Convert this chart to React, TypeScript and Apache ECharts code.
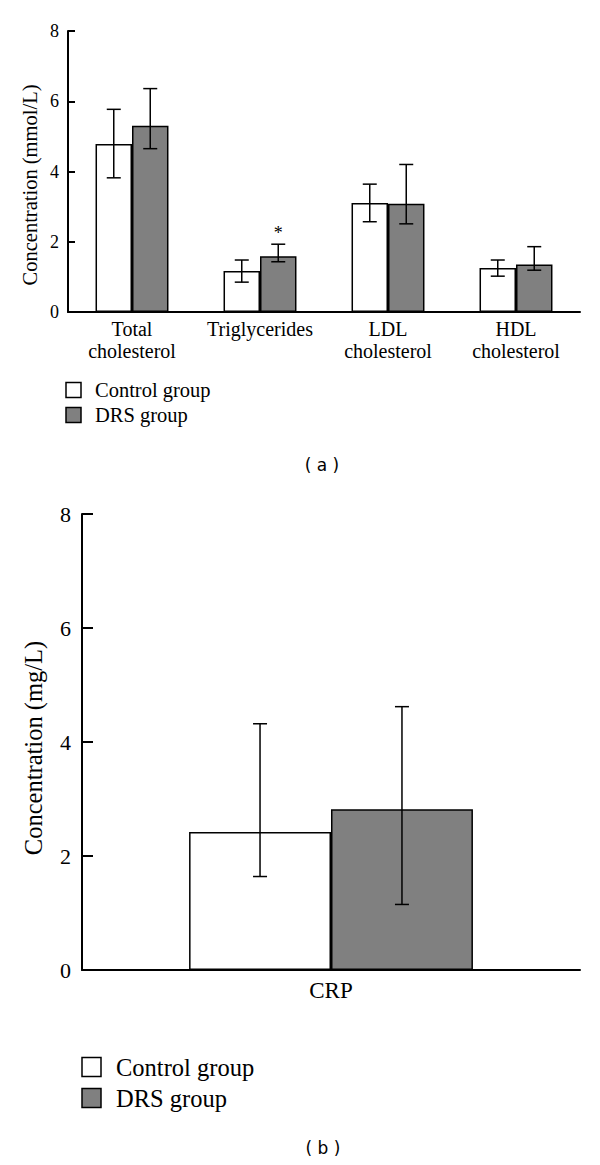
import React, { useEffect, useRef } from "react";
import * as echarts from "echarts";

const lipidCategories = ["Total\ncholesterol", "Triglycerides", "LDL\ncholesterol", "HDL\ncholesterol"];
const lipidControl = [4.78, 1.17, 3.1, 1.25];
const lipidControlLow = [3.82, 0.85, 2.57, 1.02];
const lipidControlHigh = [5.77, 1.48, 3.64, 1.48];
const lipidDRS = [5.3, 1.59, 3.08, 1.35];
const lipidDRSLow = [4.65, 1.43, 2.51, 1.19];
const lipidDRSHigh = [6.36, 1.93, 4.2, 1.86];
const lipidSignificance = ["", "*", "", ""];

const crpCategories = ["CRP"];
const crpControl = [2.42];
const crpControlLow = [1.64];
const crpControlHigh = [4.32];
const crpDRS = [2.82];
const crpDRSLow = [1.15];
const crpDRSHigh = [4.62];
const crpSignificance = [""];

const yTicks = [0, 2, 4, 6, 8];

const SERIF = "Liberation Serif";

function errorSeries(
  xAxisIndex: number,
  yAxisIndex: number,
  low: number[],
  high: number[],
  sig: string[],
  offset: number,
  cap: number,
  width: number
) {
  return {
    type: "custom",
    xAxisIndex,
    yAxisIndex,
    z: 10,
    silent: true,
    data: low.map((l, i) => [i, l, high[i]]),
    renderItem: (params: any, api: any) => {
      const cat = api.value(0);
      const lo = api.value(1);
      const hi = api.value(2);
      const band = api.size([1, 0])[0];
      const xc = api.coord([cat, 0])[0] + offset * band;
      const yHi = api.coord([cat, hi])[1];
      const yLo = api.coord([cat, lo])[1];
      const style = { stroke: "#000", lineWidth: width };
      const children: any[] = [
        { type: "line", shape: { x1: xc, y1: yHi, x2: xc, y2: yLo }, style },
        { type: "line", shape: { x1: xc - cap, y1: yHi, x2: xc + cap, y2: yHi }, style },
        { type: "line", shape: { x1: xc - cap, y1: yLo, x2: xc + cap, y2: yLo }, style },
      ];
      const s = sig[params.dataIndex];
      if (s) {
        children.push({
          type: "text",
          style: {
            text: s,
            x: xc,
            y: yHi - 11,
            align: "center",
            verticalAlign: "middle",
            fontSize: 18,
            fontFamily: SERIF,
            fill: "#000",
          },
        });
      }
      return { type: "group", children };
    },
  };
}

function valueAxis(gridIndex: number, fontSize: number, tickLen: number, margin: number) {
  return {
    type: "value",
    gridIndex,
    min: yTicks[0],
    max: yTicks[yTicks.length - 1],
    interval: 2,
    axisLine: { show: true, lineStyle: { color: "#000", width: 2 } },
    axisTick: { show: true, inside: true, length: tickLen, lineStyle: { color: "#000", width: 2 } },
    axisLabel: { show: true, color: "#000", fontSize, fontFamily: SERIF, margin },
    splitLine: { show: false },
  };
}

export default function App() {
  const ref = useRef<HTMLDivElement>(null);
  useEffect(() => {
    document.body.style.margin = "0";
    if (!ref.current) return;
    const chart = echarts.init(ref.current, null, { renderer: "svg" });

    const barStyle = (fill: string) => ({ color: fill, borderColor: "#000", borderWidth: 1.5 });

    const legend = (x: number, y1: number, y2: number, size: number, fontSize: number, gap: number) => [
      { type: "rect", shape: { x, y: y1 - size / 2, width: size, height: size }, style: { fill: "#fff", stroke: "#000", lineWidth: 1.5 } },
      { type: "text", x: x + size + gap, y: y1, style: { text: "Control group", fontSize, fontFamily: SERIF, fill: "#000", verticalAlign: "middle" } },
      { type: "rect", shape: { x, y: y2 - size / 2, width: size, height: size }, style: { fill: "#808080", stroke: "#000", lineWidth: 1.5 } },
      { type: "text", x: x + size + gap, y: y2, style: { text: "DRS group", fontSize, fontFamily: SERIF, fill: "#000", verticalAlign: "middle" } },
    ];

    chart.setOption({
      animation: false,
      backgroundColor: "#fff",
      textStyle: { fontFamily: SERIF, color: "#000" },
      grid: [
        { left: 68, right: 20, top: 31, bottom: 1165 - 312 },
        { left: 82, right: 20, top: 514, bottom: 1165 - 970 },
      ],
      xAxis: [
        {
          type: "category",
          gridIndex: 0,
          data: lipidCategories,
          axisLine: { lineStyle: { color: "#000", width: 2 } },
          axisTick: { show: false },
          axisLabel: { color: "#000", fontSize: 20, fontFamily: SERIF, interval: 0, lineHeight: 22, margin: 6 },
        },
        {
          type: "category",
          gridIndex: 1,
          data: crpCategories,
          axisLine: { lineStyle: { color: "#000", width: 2 } },
          axisTick: { show: false },
          axisLabel: { color: "#000", fontSize: 23, fontFamily: SERIF, margin: 9 },
        },
      ],
      yAxis: [valueAxis(0, 18, 7, 9), valueAxis(1, 22, 11, 11)],
      series: [
        { type: "bar", name: "Control group", xAxisIndex: 0, yAxisIndex: 0, data: lipidControl, barWidth: "28.5%", barGap: "0%", itemStyle: barStyle("#fff") },
        { type: "bar", name: "DRS group", xAxisIndex: 0, yAxisIndex: 0, data: lipidDRS, barWidth: "28.5%", barGap: "0%", itemStyle: barStyle("#808080") },
        errorSeries(0, 0, lipidControlLow, lipidControlHigh, ["", "", "", ""], -0.1425, 7, 1.5),
        errorSeries(0, 0, lipidDRSLow, lipidDRSHigh, lipidSignificance, 0.1425, 7, 1.5),
        { type: "bar", name: "Control group", xAxisIndex: 1, yAxisIndex: 1, data: crpControl, barWidth: "28.5%", barGap: "0%", itemStyle: barStyle("#fff") },
        { type: "bar", name: "DRS group", xAxisIndex: 1, yAxisIndex: 1, data: crpDRS, barWidth: "28.5%", barGap: "0%", itemStyle: barStyle("#808080") },
        errorSeries(1, 1, crpControlLow, crpControlHigh, [""], -0.1425, 7, 1.5),
        errorSeries(1, 1, crpDRSLow, crpDRSHigh, crpSignificance, 0.1425, 7, 1.5),
      ],
      graphic: [
        { type: "text", x: 30, y: 185, rotation: Math.PI / 2, style: { text: "Concentration (mmol/L)", fontSize: 20.5, fontFamily: SERIF, fill: "#000", align: "center", verticalAlign: "middle" } },
        { type: "text", x: 33, y: 748, rotation: Math.PI / 2, style: { text: "Concentration (mg/L)", fontSize: 24.5, fontFamily: SERIF, fill: "#000", align: "center", verticalAlign: "middle" } },
        ...legend(66, 390, 415, 15, 20.5, 14),
        ...legend(82, 1067, 1098, 19, 24.5, 15),
        { type: "text", x: 322, y: 465, style: { text: "( a )", fontSize: 17, fontFamily: "DejaVu Sans", fill: "#000", align: "center", verticalAlign: "middle" } },
        { type: "text", x: 323, y: 1148, style: { text: "( b )", fontSize: 17, fontFamily: "DejaVu Sans", fill: "#000", align: "center", verticalAlign: "middle" } },
      ],
    });
    return () => chart.dispose();
  }, []);
  return <div ref={ref} style={{ width: 600, height: 1165 }} />;
}
